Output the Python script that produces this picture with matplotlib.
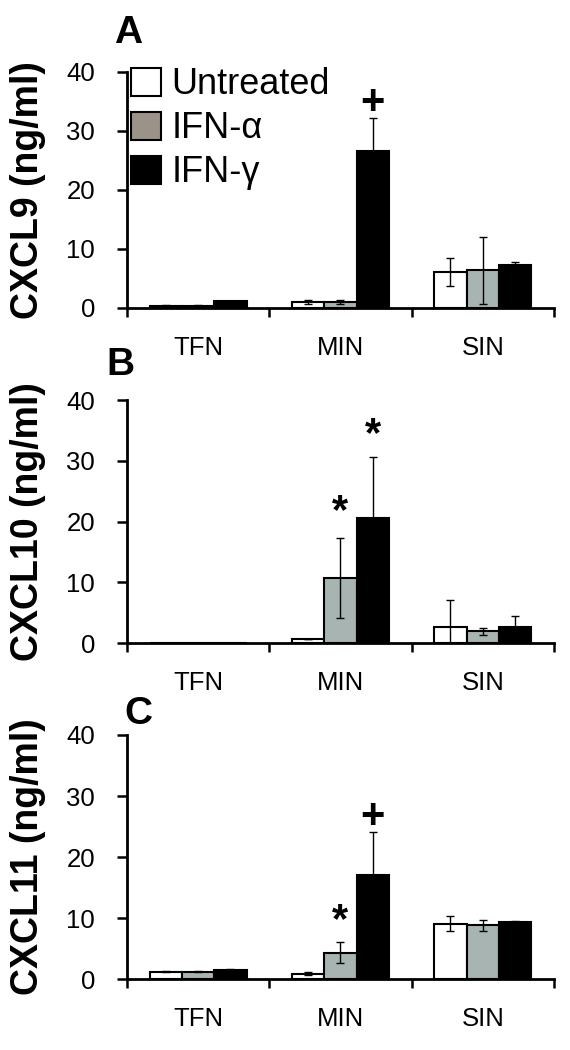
import numpy as np
import matplotlib
matplotlib.use("Agg")
from matplotlib import pyplot
from matplotlib.patches import Patch

pyplot.rcParams['font.family'] = ['Liberation Sans', 'DejaVu Sans']

# dados (ng/ml)
grupos = ['TFN', 'MIN', 'SIN']
tratamentos = ['Untreated', 'IFN-\u03b1', 'IFN-\u03b3']
paineis = ['A', 'B', 'C']
rotulos_y = ['CXCL9 (ng/ml)', 'CXCL10 (ng/ml)', 'CXCL11 (ng/ml)']

cxcl9_untreated = [0.4, 1.0, 6.1]
cxcl9_alpha = [0.4, 1.0, 6.4]
cxcl9_gamma = [1.2, 26.6, 7.3]
cxcl9_untreated_err = [0.05, 0.4, 2.3]
cxcl9_alpha_err = [0.05, 0.3, 5.7]
cxcl9_gamma_err = [0.05, 5.6, 0.5]

cxcl10_untreated = [0.05, 0.6, 2.7]
cxcl10_alpha = [0.05, 10.7, 1.9]
cxcl10_gamma = [0.05, 20.5, 2.7]
cxcl10_untreated_err = [0.0, 0.0, 4.4]
cxcl10_alpha_err = [0.0, 6.6, 0.5]
cxcl10_gamma_err = [0.0, 10.2, 1.7]

cxcl11_untreated = [1.2, 0.9, 9.1]
cxcl11_alpha = [1.2, 4.3, 8.8]
cxcl11_gamma = [1.5, 17.0, 9.3]
cxcl11_untreated_err = [0.1, 0.3, 1.2]
cxcl11_alpha_err = [0.1, 1.7, 0.9]
cxcl11_gamma_err = [0.1, 7.1, 0.2]

# marcas de significancia: (painel, grupo, tratamento, altura, simbolo)
sig_painel = [0, 1, 1, 2, 2]
sig_grupo = [1, 1, 1, 1, 1]
sig_trat = [2, 1, 2, 1, 2]
sig_y = [34.8, 21.6, 34.2, 9.5, 26.6]
sig_texto = ['+', '*', '*', '*', '+']

medias = [[cxcl9_untreated, cxcl9_alpha, cxcl9_gamma],
          [cxcl10_untreated, cxcl10_alpha, cxcl10_gamma],
          [cxcl11_untreated, cxcl11_alpha, cxcl11_gamma]]
erros = [[cxcl9_untreated_err, cxcl9_alpha_err, cxcl9_gamma_err],
         [cxcl10_untreated_err, cxcl10_alpha_err, cxcl10_gamma_err],
         [cxcl11_untreated_err, cxcl11_alpha_err, cxcl11_gamma_err]]

cores_barras = ['white', '#a7b4b1', 'black']
cores_legenda = ['white', '#9b928a', 'black']
largura = 0.227

figura = pyplot.figure(figsize=(5.7, 10.5), dpi=100)
posicoes = [[0.2228, 0.7067, 0.749, 0.2248],
            [0.2228, 0.3876, 0.749, 0.2314],
            [0.2228, 0.0676, 0.749, 0.2324]]
letras_pos = [(0.200, 0.959), (0.186, 0.643), (0.218, 0.310)]

x = np.arange(len(grupos))
eixos = []
for p in range(3):
    ax = figura.add_axes(posicoes[p])
    eixos.append(ax)
    for t in range(3):
        xs = x + (t - 1) * largura
        ax.bar(xs, medias[p][t], width=largura, color=cores_barras[t],
               edgecolor='black', linewidth=1.5, zorder=2)
        ax.errorbar(xs, medias[p][t], yerr=erros[p][t], fmt='none',
                    ecolor='black', elinewidth=1, capsize=3.2, capthick=1,
                    zorder=3)

    ax.set_xlim(-0.5, 2.5)
    ax.set_ylim(0, 40)
    ax.set_yticks([0, 10, 20, 30, 40])
    ax.set_xticks([-0.5, 0.5, 1.5, 2.5])
    ax.set_xticklabels([])
    ax.set_xticks(x, minor=True)
    ax.set_xticklabels(grupos, minor=True)
    ax.spines['top'].set_visible(False)
    ax.spines['right'].set_visible(False)
    ax.spines['left'].set_linewidth(2)
    ax.spines['bottom'].set_linewidth(2)
    ax.tick_params(axis='y', direction='out', length=7, width=1.8,
                   labelsize=18.5, pad=16)
    ax.tick_params(axis='x', which='major', direction='out', length=6.5,
                   width=1.8)
    ax.tick_params(axis='x', which='minor', length=0, labelsize=18.5, pad=20)
    ax.set_ylabel(rotulos_y[p], fontsize=27, fontweight='bold', va='center')
    ax.yaxis.set_label_coords(-0.232, 0.5)
    figura.text(letras_pos[p][0], letras_pos[p][1], paineis[p],
                fontsize=28, fontweight='bold', ha='left', va='baseline')

for i in range(len(sig_texto)):
    ax = eixos[sig_painel[i]]
    ax.text(sig_grupo[i] + (sig_trat[i] - 1) * largura, sig_y[i], sig_texto[i],
            fontsize=30, fontweight='bold', ha='center', va='center',
            zorder=4)

handles = [Patch(facecolor=cores_legenda[t], edgecolor='black', linewidth=1.5)
           for t in range(3)]
eixos[0].legend(handles, tratamentos, loc='upper left',
                bbox_to_anchor=(0.01, 1.02), frameon=False, fontsize=26,
                handlelength=0.82, handleheight=0.82, handletextpad=0.3,
                labelspacing=0.25, borderpad=0, borderaxespad=0)

figura.savefig('out.png', dpi=100)
